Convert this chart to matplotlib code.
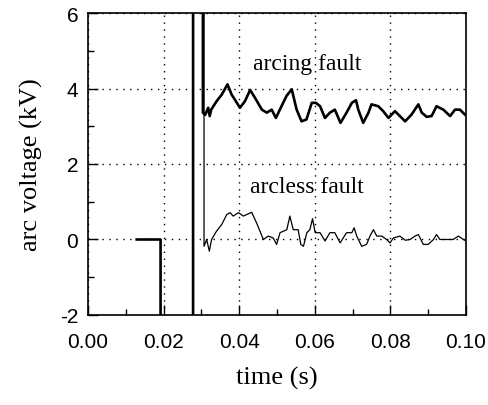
import matplotlib
matplotlib.use("Agg")
import matplotlib.pyplot as plt
from matplotlib.ticker import MultipleLocator

plt.rcParams['axes.unicode_minus'] = False

# arcing fault trace (thick); values above 6 / below -2 run off the axes
arcing_t = [0.0129, 0.0192, 0.0192, 0.0278, 0.0278, 0.0304, 0.0304,
            0.0310, 0.0318, 0.0322, 0.0326, 0.0340, 0.0354, 0.0369, 0.0380,
            0.0402, 0.0415, 0.0429, 0.0442, 0.0460, 0.0473, 0.0486, 0.0497,
            0.0512, 0.0525, 0.0539, 0.0552, 0.0565, 0.0578, 0.0592, 0.0603,
            0.0614, 0.0627, 0.0640, 0.0653, 0.0668, 0.0684, 0.0698, 0.0709,
            0.0715, 0.0728, 0.0742, 0.0750, 0.0768, 0.0781, 0.0795, 0.0812,
            0.0825, 0.0839, 0.0856, 0.0874, 0.0883, 0.0896, 0.0909, 0.0922,
            0.0940, 0.0958, 0.0971, 0.0984, 0.0997]
arcing_v = [0.0, 0.0, -3.0, -3.0, 7.0, 7.0, 3.36,
            3.30, 3.49, 3.27, 3.44, 3.66, 3.84, 4.11, 3.84,
            3.49, 3.66, 3.96, 3.75, 3.44, 3.36, 3.44, 3.22,
            3.53, 3.80, 3.98, 3.44, 3.13, 3.18, 3.62, 3.62,
            3.53, 3.22, 3.36, 3.44, 3.09, 3.36, 3.62, 3.69,
            3.44, 3.09, 3.36, 3.58, 3.53, 3.40, 3.22, 3.40,
            3.27, 3.13, 3.31, 3.58, 3.36, 3.25, 3.27, 3.53,
            3.44, 3.27, 3.44, 3.44, 3.31]

# arcless fault trace (thin)
arcless_t = [0.0307, 0.0307, 0.0314, 0.0321, 0.0327, 0.0340, 0.0354, 0.0367,
             0.0376, 0.0384, 0.0398, 0.0411, 0.0433, 0.0446, 0.0464, 0.0477,
             0.0490, 0.0499, 0.0508, 0.0526, 0.0534, 0.0543, 0.0556, 0.0563,
             0.0570, 0.0579, 0.0587, 0.0594, 0.0601, 0.0614, 0.0627, 0.0640,
             0.0653, 0.0667, 0.0684, 0.0698, 0.0704, 0.0711, 0.0724, 0.0737,
             0.0746, 0.0755, 0.0764, 0.0777, 0.0790, 0.0799, 0.0808, 0.0825,
             0.0839, 0.0852, 0.0865, 0.0874, 0.0887, 0.0900, 0.0914, 0.0922,
             0.0931, 0.0949, 0.0966, 0.0980, 0.0993, 0.1000]
arcless_v = [7.0, -0.18, 0.0, -0.31, 0.0, 0.22, 0.40, 0.66,
             0.71, 0.62, 0.71, 0.62, 0.72, 0.44, 0.0, 0.09,
             0.04, -0.13, 0.18, 0.26, 0.62, 0.26, 0.26, -0.13,
             -0.18, 0.18, 0.26, 0.55, 0.18, 0.18, -0.04, 0.18,
             0.18, -0.09, 0.18, 0.18, 0.31, 0.09, -0.18, -0.13,
             0.09, 0.26, 0.09, 0.09, 0.0, -0.09, 0.04, 0.09,
             -0.02, 0.0, 0.09, 0.13, -0.13, -0.13, 0.0, 0.13,
             0.0, 0.0, 0.0, 0.09, 0.0, -0.04]

xticks = [0.00, 0.02, 0.04, 0.06, 0.08, 0.10]
xtick_labels = ["0.00", "0.02", "0.04", "0.06", "0.08", "0.10"]
yticks = [-2, 0, 2, 4, 6]

fig = plt.figure(figsize=(4.88, 4.06), dpi=100)
ax = fig.add_axes([0.1803, 0.2217, 0.7746, 0.7438])

ax.plot(arcing_t, arcing_v, color="black", lw=1.9, solid_joinstyle="round")
ax.plot(arcless_t, arcless_v, color="black", lw=0.9)

ax.set_xlim(0, 0.10)
ax.set_ylim(-2, 6)
ax.set_xticks(xticks)
ax.set_xticklabels(xtick_labels)
ax.set_yticks(yticks)
ax.xaxis.set_minor_locator(MultipleLocator(0.01))
ax.yaxis.set_minor_locator(MultipleLocator(1))
ax.tick_params(which="both", direction="in", labelsize=15, width=1.0,
               labelfontfamily="Liberation Sans")
ax.tick_params(which="major", length=7)
ax.tick_params(which="minor", length=4)
ax.tick_params(axis="x", pad=12)
ax.tick_params(axis="y", pad=7)
for s in ax.spines.values():
    s.set_linewidth(1.2)

ax.grid(True, which="major", color="black", linestyle=(0, (1, 4)), lw=1.0)

ax.text(0.0580, 4.67, "arcing fault", fontsize=17, family="Liberation Serif",
        ha="center", va="center")
ax.text(0.0580, 1.40, "arcless fault", fontsize=17, family="Liberation Serif",
        ha="center", va="center")

ax.set_xlabel("time (s)", fontsize=19, family="Liberation Serif", labelpad=11)
ax.set_ylabel("arc voltage (kV)", fontsize=19, family="Liberation Serif",
              labelpad=12)

fig.savefig("out.png", dpi=100)
